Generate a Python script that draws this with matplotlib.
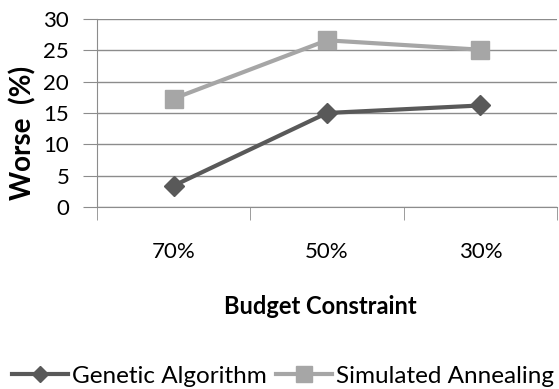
import matplotlib.pyplot as plt
from matplotlib.lines import Line2D

# budget levels and how much worse each heuristic does (%)
budgets = ["70%", "50%", "30%"]
genetic = [3.4, 15.0, 16.2]
annealing = [17.3, 26.6, 25.1]
yticks = [0, 5, 10, 15, 20, 25, 30]

plt.rcParams['font.family'] = ['Lato', 'DejaVu Sans']

fig = plt.figure(figsize=(5.59, 3.89), dpi=100)
ax = fig.add_axes([97 / 559, 1 - 207 / 389, 460 / 559, 188 / 389])

x = list(range(len(budgets)))
ax.plot(x, genetic, color='#595959', lw=3, marker='D', ms=10,
        label='Genetic Algorithm', zorder=3)
ax.plot(x, annealing, color='#a6a6a6', lw=3, marker='s', ms=13,
        label='Simulated Annealing', zorder=3)

ax.set_xlim(-0.5, len(budgets) - 0.5)
ax.set_ylim(0, 30)
ax.set_yticks(yticks)
ax.set_xticks(x)
ax.set_xticklabels(budgets)
ax.set_xticks([i - 0.5 for i in range(len(budgets) + 1)], minor=True)
ax.grid(axis='y', color='#8c8c8c', lw=1)
ax.set_axisbelow(True)

for side in ['top', 'right']:
    ax.spines[side].set_visible(False)
for side in ['left', 'bottom']:
    ax.spines[side].set_color('#8c8c8c')

ax.tick_params(axis='y', length=10, color='#8c8c8c', labelsize=16, pad=10)
ax.tick_params(axis='x', which='major', length=0, labelsize=16, pad=25)
ax.tick_params(axis='x', which='minor', length=9, color='#8c8c8c')

fig.text(320 / 559, 1 - 306 / 389, 'Budget Constraint', ha='center',
         va='center', fontsize=17, fontweight='bold')
fig.text(23 / 559, 1 - 133 / 389, 'Worse  (%)', ha='center', va='center',
         rotation=90, fontsize=20, fontweight='bold')

handles = [
    Line2D([], [], color='#595959', lw=3, marker='D', ms=8),
    Line2D([], [], color='#a6a6a6', lw=3, marker='s', ms=11),
]
fig.legend(handles, ['Genetic Algorithm', 'Simulated Annealing'],
           loc='center left', bbox_to_anchor=(12 / 559, 1 - 376 / 389),
           ncol=2, frameon=False, fontsize=17.5, handlelength=2.3,
           handletextpad=0.15, columnspacing=0.4, borderaxespad=0,
           borderpad=0)

fig.savefig('out.png', dpi=100)
